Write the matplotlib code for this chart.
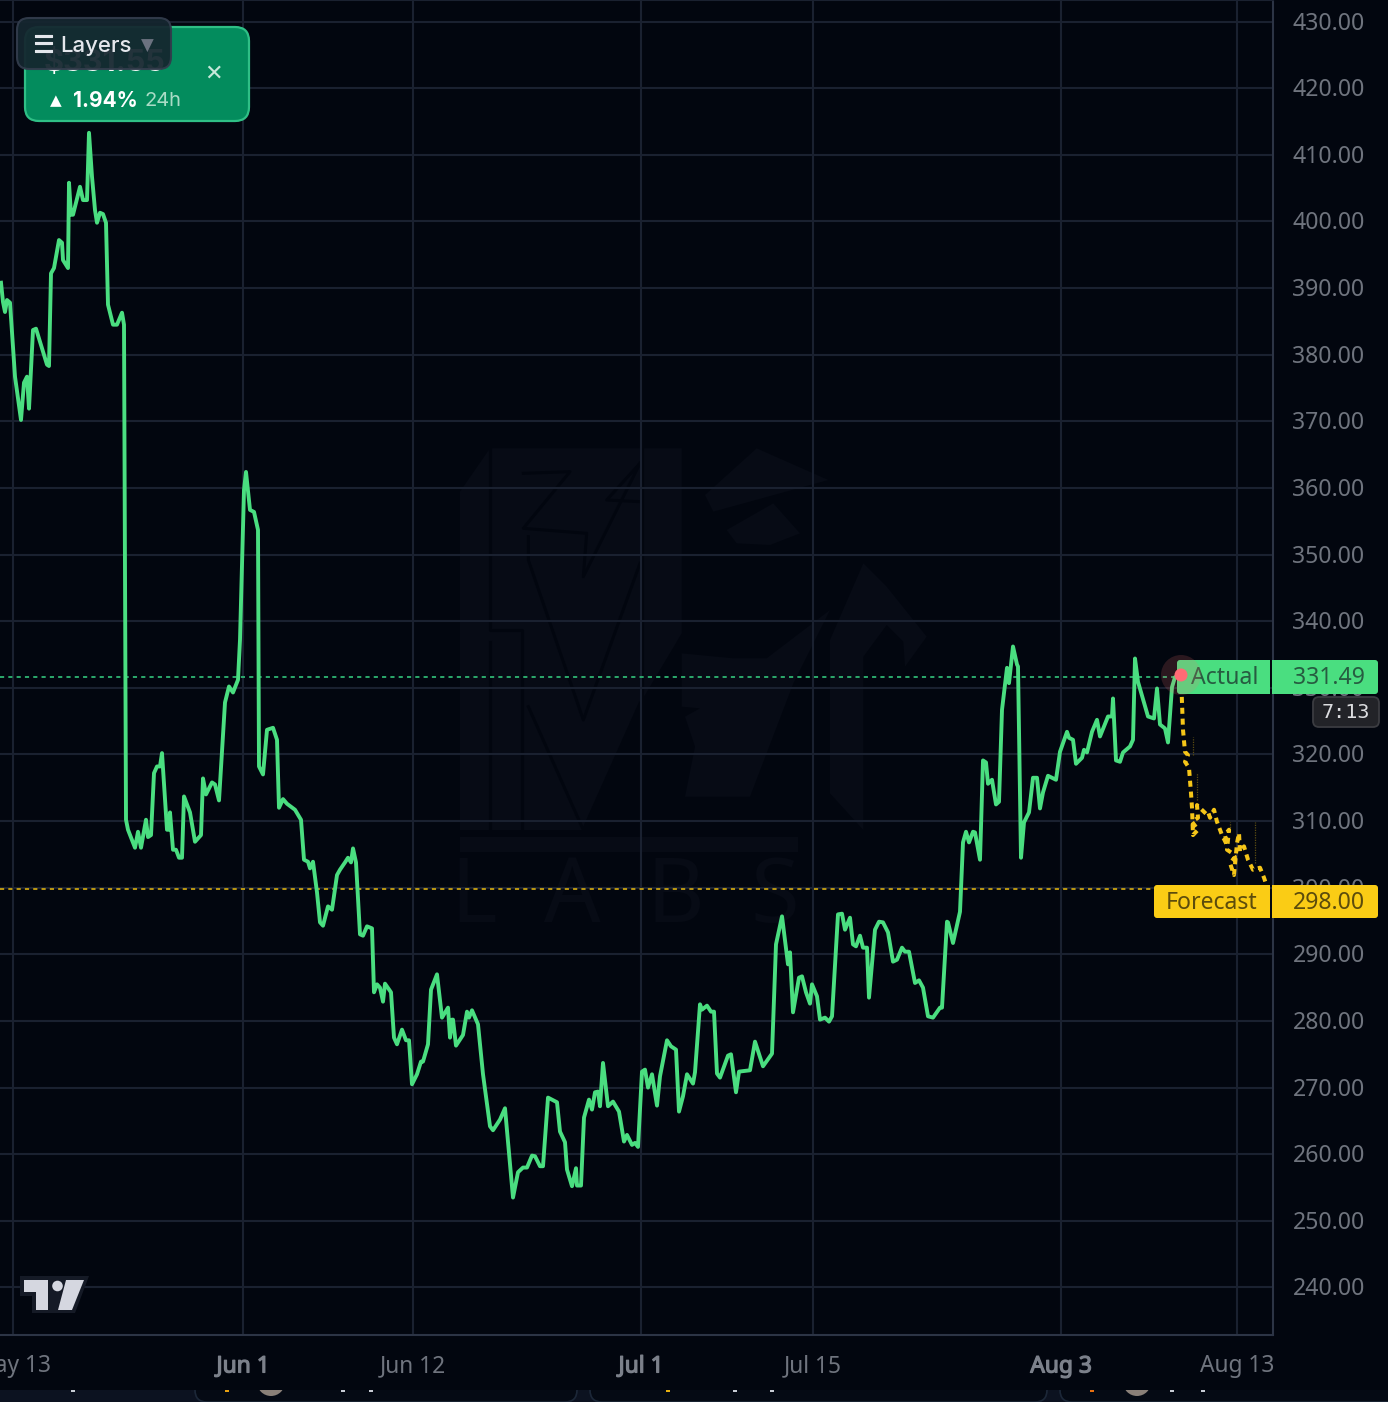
import matplotlib
matplotlib.use('Agg')
import matplotlib.pyplot as plt
import matplotlib.patheffects as pe
from matplotlib.transforms import ScaledTranslation
from matplotlib.patches import FancyBboxPatch, Polygon, Rectangle, Circle

# time axis is ordinal (bars), so dates are not evenly spaced
date_pos = [13, 243, 413, 641, 813, 1061, 1237]
date_labels = ['May 13', 'Jun 1', 'Jun 12', 'Jul 1', 'Jul 15', 'Aug 3', 'Aug 13']
bold_dates = ['Jun 1', 'Jul 1', 'Aug 3']
price_ticks = list(range(240, 431, 10))

bars = [1, 3, 5, 7, 10, 15, 21, 24, 27, 29, 33, 36, 47, 49, 51, 54, 59, 62, 63, 68, 69, 71, 73, 80, 83, 87, 89, 92, 95, 97,
        100, 103, 106, 108, 113, 117, 122, 124, 126, 128, 135, 138, 141, 146, 148, 151, 154, 157, 160, 162, 167, 169, 170,
        173, 176, 179, 182, 184, 190, 195, 201, 203, 206, 212, 215, 219, 225, 229, 233, 238, 240, 244, 246, 250, 254, 258,
        259, 263, 267, 273, 277, 279, 283, 287, 295, 301, 304, 308, 310, 313, 317, 320, 323, 328, 332, 337, 340, 345, 348,
        351, 353, 356, 360, 363, 367, 372, 374, 377, 380, 383, 385, 391, 394, 397, 402, 406, 409, 412, 417, 421, 423, 428,
        431, 437, 442, 448, 450, 452, 453, 456, 463, 467, 469, 472, 478, 483, 490, 493, 500, 505, 513, 518, 523, 527, 532,
        535, 540, 543, 548, 557, 560, 565, 567, 572, 576, 577, 581, 584, 589, 592, 595, 598, 600, 603, 608, 613, 619, 624,
        627, 632, 635, 638, 642, 645, 648, 652, 657, 660, 667, 671, 676, 679, 683, 687, 693, 695, 700, 702, 707, 711, 714,
        717, 720, 728, 731, 736, 739, 750, 755, 763, 772, 776, 782, 788, 790, 793, 799, 802, 806, 810, 812, 817, 820, 825,
        829, 832, 838, 842, 845, 850, 853, 856, 860, 863, 867, 869, 875, 879, 883, 888, 893, 897, 902, 905, 909, 915, 919,
        923, 928, 933, 940, 942, 947, 948, 953, 960, 963, 966, 969, 973, 975, 980, 983, 986, 988, 992, 996, 999, 1002, 1007,
        1009, 1013, 1017, 1018, 1021, 1024, 1029, 1033, 1037, 1040, 1043, 1048, 1056, 1060, 1067, 1069, 1073, 1076, 1082,
        1084, 1087, 1092, 1097, 1100, 1108, 1112, 1113, 1116, 1120, 1123, 1130, 1133, 1135, 1138, 1148, 1154, 1157, 1160,
        1165, 1168, 1172, 1175, 1181]
actual = [390.8, 387.9, 386.4, 388.2, 387.8, 376.7, 370.2, 375.8, 376.7, 371.9, 383.7, 383.9, 378.5, 378.3, 392.2, 393.0,
          397.2, 396.8, 394.2, 393.0, 405.8, 401.0, 401.0, 405.2, 403.2, 403.2, 413.3, 406.7, 401.7, 399.8,
          401.3, 401.1, 399.8, 387.5, 384.5, 384.5, 386.3, 384.5, 310.2, 308.7, 306.0, 308.4, 306.0, 310.2, 307.6, 307.9,
          317.2, 318.2, 318.2, 320.2, 308.7, 308.7, 311.3,
          305.7, 305.7, 304.5, 304.5, 313.7, 311.3, 306.9, 307.9, 316.4, 314.0, 315.8, 315.5, 313.1, 327.8, 330.2, 329.3,
          331.2, 337.2, 359.7, 362.4, 356.7, 356.4, 353.7,
          318.2, 317.0, 323.7, 324.0, 322.2, 312.0, 313.3, 312.6, 311.7, 310.2, 304.2, 303.9, 302.9, 303.9, 299.3, 294.8,
          294.3, 297.2, 296.7, 301.9, 302.7, 303.8, 304.5,
          303.8, 305.9, 303.8, 293.0, 292.8, 294.2, 293.9, 284.3, 285.5, 285.0, 282.9, 285.6, 284.3, 277.5, 276.5, 278.7,
          277.1, 277.1, 270.5, 272.0, 273.9, 273.9, 276.5,
          284.7, 287.0, 280.5, 282.0, 277.5, 280.2, 280.2, 276.3, 277.9, 281.4, 280.5, 281.6, 279.5, 272.0, 264.2, 263.6,
          265.2, 266.9, 253.5, 257.3, 258.0, 258.0, 259.8,
          259.7, 258.2, 258.2, 268.5, 267.8, 263.4, 261.8, 257.7, 255.2, 257.9, 255.3, 255.3, 265.5, 268.2, 266.7, 269.3,
          269.4, 267.2, 273.7, 267.2, 267.9, 266.4, 261.9,
          262.9, 261.4, 261.7, 261.1, 272.4, 272.7, 270.0, 272.0, 267.3, 271.7, 277.1, 276.2, 275.7, 266.4, 268.7, 272.0,
          270.6, 272.3, 282.5, 281.7, 282.3, 281.4, 281.4,
          272.1, 271.5, 274.8, 275.0, 269.3, 272.4, 272.6, 276.9, 273.2, 275.1, 291.5, 295.7, 288.5, 290.3, 281.3, 286.5,
          286.7, 284.3, 282.6, 285.5, 283.7, 280.2, 280.5,
          279.9, 280.7, 296.0, 296.1, 293.7, 295.5, 291.5, 291.2, 292.8, 291.0, 291.0, 283.5, 293.7, 294.9, 294.8, 293.3,
          288.9, 289.2, 291.0, 290.4, 290.4, 285.7, 286.1,
          285.0, 280.7, 280.5, 282.0, 282.0, 294.9, 294.8, 291.7, 296.4, 306.8, 308.4, 306.8, 308.4, 308.3, 304.2, 319.1,
          318.8, 315.6, 316.2, 312.5, 312.9, 326.7, 333.0,
          330.7, 336.2, 333.5, 333.2, 304.5, 309.8, 311.3, 316.5, 316.5, 311.9, 314.3, 316.8, 316.2, 320.4, 323.4, 322.5,
          322.2, 318.6, 319.5,
          320.7, 320.3, 323.4, 325.2, 322.7, 325.7, 325.7, 328.4, 319.1, 318.9, 320.3, 321.2, 322.2, 334.4, 330.9, 325.7,
          325.4, 329.9, 324.5,
          323.9, 321.8, 330.1, 331.6, 331.9]

fc_bars = [1181, 1183, 1185, 1188, 1185, 1189, 1191, 1192, 1193, 1198, 1192, 1198, 1197, 1206, 1208, 1210, 1214, 1217, 1222,
           1227, 1225, 1229, 1227, 1232, 1235, 1230, 1234, 1237, 1239, 1240, 1244, 1248, 1253, 1260, 1264, 1268]
forecast = [331.9, 323.7, 320.4, 319.9, 318.9, 318.0, 314.2, 312.0, 307.9, 308.7, 309.9, 310.5, 312.4, 311.1, 311.4, 310.5,
            311.7, 309.9, 307.9, 306.4, 307.9, 308.7, 305.7, 305.2, 304.6, 303.7, 301.9, 306.7, 308.2, 305.4, 306.2, 304.2,
            302.7, 303.0, 301.5, 299.7]
# faint range spikes next to the forecast
spike_bars = [1193, 1197, 1230, 1255]
spike_hi = [322.6, 317.2, 309.9, 309.9]
spike_lo = [319.9, 313.2, 308.7, 303.7]

actual_last = 331.6
forecast_line = 299.8
actual_text = '331.49'
forecast_text = '298.00'

BG = '#02060f'
GRID = '#1a2130'
AXIS = '#2c3445'
GREEN = '#4ade80'
YELLOW = '#facc15'
TICK = '#6f747e'
WM = '#070b15'

plt.rcParams['font.family'] = ['Noto Sans', 'DejaVu Sans']

W, H = 1388, 1402
fig = plt.figure(figsize=(W / 100, H / 100), dpi=100, facecolor=BG)
ax = fig.add_axes([0, 1 - 1335 / H, 1273 / W, 1335 / H], facecolor=BG)
ax.set_xlim(0, 1273)
ax.set_ylim(232.87, 433.23)

ax.set_yticks(price_ticks)
ax.set_yticklabels([f'{p:.2f}' for p in price_ticks])
ax.yaxis.tick_right()
ax.set_xticks(date_pos)
ax.set_xticklabels(date_labels)
ax.tick_params(axis='y', length=0, pad=14, labelsize=16.6, labelcolor=TICK)
ax.tick_params(axis='x', length=0, pad=14, labelsize=16.4, labelcolor=TICK)
up1 = ScaledTranslation(0, 1 / 100, fig.dpi_scale_trans)
for t in ax.get_yticklabels():
    t.set_transform(t.get_transform() + up1)
for t in ax.get_xticklabels():
    if t.get_text() in bold_dates:
        t.set_color('#7c818b')
        t.set_path_effects([pe.withStroke(linewidth=0.9, foreground='#7c818b')])
ax.grid(True, color=GRID, lw=1.5, zorder=1)
ax.set_axisbelow(True)
ax.spines['left'].set_visible(False)
for s in ['right', 'bottom', 'top']:
    ax.spines[s].set_color(AXIS if s != 'top' else GRID)
    ax.spines[s].set_linewidth(1.5)

ax.hlines(actual_last, 0, bars[-1], color='#2fb673', lw=1.3, linestyles=(0, (2.3, 2.3)), zorder=3)
ax.hlines(forecast_line, 0, 1160, color='#c9a210', lw=1.3, linestyles=(0, (2.3, 2.3)), zorder=3)
ax.vlines(spike_bars, spike_lo, spike_hi, color='#5c4d12', lw=0.9, linestyles=(0, (1, 1)), zorder=3)
ax.plot(fc_bars, forecast, color='#f5c518', lw=2.9, ls=(0, (1.5, 1.2)), zorder=4)
ax.plot(bars, actual, color=GREEN, lw=2.8, solid_joinstyle='round', zorder=5)

# overlay in pixels for the UI chrome
ov = fig.add_axes([0, 0, 1, 1], facecolor='none')
ov.set_xlim(0, W)
ov.set_ylim(H, 0)
ov.axis('off')


def box(x0, y0, x1, y1, fc, r=4, ec='none', lw=0, alpha=None, z=5):
    p = FancyBboxPatch((x0, y0), x1 - x0, y1 - y0, boxstyle=f'round,pad=0,rounding_size={r}',
                       fc=fc, ec=ec, lw=lw, alpha=alpha, zorder=z)
    ov.add_patch(p)
    return p


# watermark sits under the chart, so it goes on its own axes
wm = fig.add_axes([0, 0, 1, 1], facecolor='none', zorder=-1)
wm.set_xlim(0, W)
wm.set_ylim(H, 0)
wm.axis('off')
ax.set_zorder(1)
ax.patch.set_alpha(0)
ov.set_zorder(2)


def wp(pts):
    return [(440 + a / 3, 420 + b / 3) for a, b in pts]


wm_shapes = [
    [(60, 215), (150, 85), (725, 85), (725, 640), (600, 850), (430, 1230), (60, 1230)],
    [(725, 700), (880, 715), (980, 715), (1170, 570), (1060, 790), (930, 1130), (735, 1130), (765, 980), (735, 890), (780, 865), (725, 860)],
    [(795, 225), (950, 85), (1165, 180), (820, 275)],
    [(860, 330), (1000, 250), (1080, 340), (990, 375), (890, 370)],
    [(1270, 430), (1340, 500), (1460, 650), (1395, 740), (1390, 665), (1340, 615), (1270, 710), (1270, 1230), (1170, 1120), (1170, 660)],
    [(60, 1250), (1075, 1250), (1075, 1295), (60, 1295)],
]
wm_cuts = [
    [(150, 85), (150, 630), (245, 630), (245, 1230)],
    [(150, 665), (150, 1230)],
    [(250, 160), (390, 155), (250, 325), (440, 340), (430, 470), (600, 130)],
    [(600, 130), (500, 240), (600, 245)],
    [(265, 350), (265, 420), (430, 900), (600, 430)],
    [(265, 860), (430, 1230), (600, 850)],
    [(605, 85), (605, 850)],
]
for shape in wm_shapes:
    wm.add_patch(Polygon(wp(shape), fc=WM, ec='none'))
for cut in wm_cuts:
    wm.plot(*zip(*wp(cut)), color=BG, lw=2.2)
wm.set_xlim(0, W)
wm.set_ylim(H, 0)
wm.text(625, 922, 'L  A  B  S', color=WM, fontsize=64, ha='center', va='baseline')

# bottom strip with the cut-off panels
ov.add_patch(Rectangle((0, 1390), W, 12, fc='#0c1220', ec='none', zorder=1))
clip = Rectangle((0, 1390), W, 12, transform=ov.transData)
for x0, x1 in [(195, 577), (590, 1047), (1060, 1420)]:
    p = box(x0, 1340, x1, 1402, '#050a14', r=12, ec='#1c2738', lw=1.2, z=2)
    p.set_clip_path(clip)
for x, c in [(73, '#c8ccd4'), (227, '#e8a010'), (343, '#c8ccd4'), (371, '#c8ccd4'), (668, '#e8b010'), (735, '#c8ccd4'),
             (772, '#c8ccd4'), (1092, '#e87010'), (1172, '#c8ccd4'), (1203, '#c8ccd4')]:
    ov.add_patch(Rectangle((x - 2, 1390), 4, 2, fc=c, ec='none', zorder=3))
for x, r in [(271, 14), (1137, 14)]:
    a = Circle((x, 1382), r, fc='#8a8078', ec='none', zorder=3)
    ov.add_patch(a)
    a.set_clip_path(clip)

# price tags
for y0, y1, c, name, val, x0, txt in [(660, 694, GREEN, 'Actual', actual_text, 1177, '#275c41'),
                                      (885, 918, YELLOW, 'Forecast', forecast_text, 1154, '#5c4c0c')]:
    box(x0, y0, 1270, y1, c, r=3)
    ov.add_patch(Rectangle((1255, y0), 15, y1 - y0, fc=c, ec='none', zorder=5))
    box(1272, y0, 1378, y1, c, r=3)
    ov.add_patch(Rectangle((1272, y0), 15, y1 - y0, fc=c, ec='none', zorder=5))
    ov.text(1258, (y0 + y1) / 2 + 1.5, name, color=txt, fontsize=16.6, ha='right', va='center', zorder=6)
    ov.text(1365, (y0 + y1) / 2 + 1.5, val, color=txt, fontsize=16.6, ha='right', va='center', zorder=6)
ov.add_patch(Circle((1181, 675), 20, fc='#f87171', alpha=0.17, ec='none', zorder=6))
ov.add_patch(Circle((1181, 675), 6.5, fc='#ff6b75', ec='none', zorder=7))

box(1313, 697, 1379, 727, '#222328', r=6, ec='#3b3c41', lw=1.3)
ov.text(1346, 712, '7:13', color='#dcdde0', fontsize=14.5, ha='center', va='center', family='DejaVu Sans Mono', zorder=6)

# green card + layers button
box(25, 27, 249, 121, '#038c5d', r=14, ec='#2fbf86', lw=1.6, z=5)
ov.text(105, 63, '$331.55', color='white', fontsize=22, fontweight='bold', ha='center', va='center', family='Inter', zorder=5.2)
ov.text(56, 101, '▲', color='white', fontsize=11, ha='center', va='center', family='DejaVu Sans', zorder=5.2)
ov.text(73, 101, '1.94%', color='white', fontsize=15, fontweight='bold', ha='left', va='center', family='Inter', zorder=5.2)
ov.text(145, 101, '24h', color='#a9dcc6', fontsize=14.5, ha='left', va='center', family='Inter', zorder=5.2)
ov.text(214, 74, '✕', color='#c5e8da', fontsize=16, ha='center', va='center', family='DejaVu Sans', zorder=5.2)

box(17, 18, 171, 69, '#15262f', r=12, ec='#323c4c', lw=1.5, alpha=0.94, z=5.5)
ov.text(43.5, 45, '☰', color='#e4e7ec', fontsize=17, ha='center', va='center', family='DejaVu Sans', zorder=6,
        path_effects=[pe.withStroke(linewidth=0.8, foreground='#e4e7ec')])
ov.text(60, 45.5, 'Layers', color='#e4e7ec', fontsize=16, fontweight='medium', ha='left', va='center', family='Inter', zorder=6)
ov.text(147.5, 46, '▼', color='#6b7280', fontsize=12, ha='center', va='center', family='DejaVu Sans', zorder=6)

# tradingview logo
ov.add_patch(Polygon([(20, 1276), (89, 1276), (75, 1313), (32, 1313), (32, 1296), (20, 1296)], fc='#151a26', ec='none', zorder=4))
ov.add_patch(Polygon([(24, 1280), (48, 1280), (48, 1310), (36, 1310), (36, 1292), (24, 1292)], fc='#d5d7e0', ec='none', zorder=5))
ov.add_patch(Polygon([(66, 1280), (84, 1280), (72, 1310), (58, 1310)], fc='#d5d7e0', ec='none', zorder=5))
ov.add_patch(Circle((57.5, 1286), 5.3, fc='#d5d7e0', ec='none', zorder=5))

fig.savefig('out.png', dpi=100, facecolor=BG)
